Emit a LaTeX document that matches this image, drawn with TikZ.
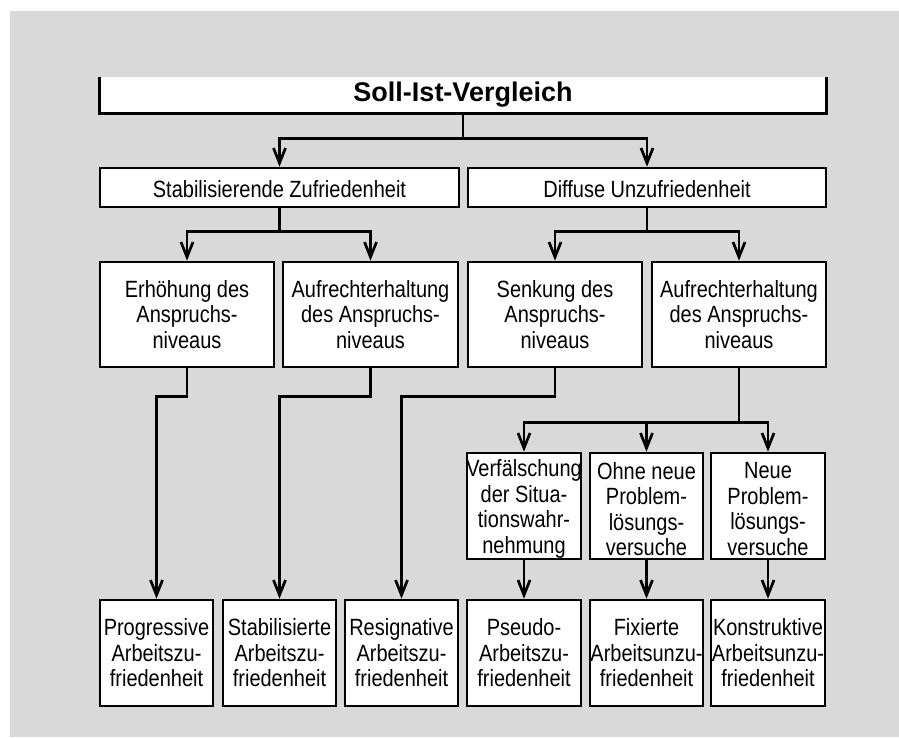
\documentclass[tikz,border=0pt]{standalone}
\usepackage{fontspec}
\setmainfont{Liberation Sans}[FakeStretch=0.85]
\newfontfamily\titlefont{Liberation Sans}
\usetikzlibrary{arrows.meta}
\definecolor{bggray}{RGB}{217,217,217}
\tikzset{
  box/.style={draw=black, fill=white, line width=2.7pt, inner sep=0pt},
  txt/.style={inner sep=0pt, align=center, font=\fontsize{23.5pt}{25.5pt}\selectfont},
  conn/.style={draw=black, line width=2.7pt},
  arr/.style={-{Straight Barb[length=15pt,width=12pt]}},
}
\newcommand{\mybox}[7][0]{%
  \node[box, minimum width=#5pt, minimum height=#6pt] (#2) at (#3,#4) {};
  \node[txt, yshift=-#1pt] (#2t) at (#2.center) {#7};}
\begin{document}
\begin{tikzpicture}[x=1pt,y=-1pt]
\useasboundingbox (0,0) rectangle (899,737);
\fill[white] (0,0) rectangle (899,737);
\fill[bggray] (10,11) rectangle (899,737);

% top box (open at its upper side)
\node[fill=white, inner sep=0pt, minimum width=726pt, minimum height=36pt] (top) at (463,95) {};
\draw[conn] (top.north west) -- (top.south west) -- (top.south east) -- (top.north east);
\node[inner sep=0pt, font=\titlefont\bfseries\fontsize{27pt}{29pt}\selectfont] (topt) at (top.center) {Soll-Ist-Vergleich};

% second row
\mybox[2]{L}{279.5}{187.5}{359}{39}{Stabilisierende Zufriedenheit}
\mybox[2]{R}{647}{187.5}{358}{39}{Diffuse Unzufriedenheit}

% third row
\mybox{b1}{187}{314.5}{174}{105}{Erhöhung des\\Anspruchs-\\niveaus}
\mybox{b2}{370.5}{314.5}{175}{105}{Aufrechterhaltung\\des Anspruchs-\\niveaus}
\mybox{b3}{555}{314.5}{174}{105}{Senkung des\\Anspruchs-\\niveaus}
\mybox{b4}{739}{314.5}{174}{105}{Aufrechterhaltung\\des Anspruchs-\\niveaus}

% fourth row
\mybox[3]{c1}{524}{506}{114}{106}{Verfälschung\\der Situa-\\tionswahr-\\nehmung}
\mybox[3]{c2}{646.5}{506}{113}{106}{Ohne neue\\Problem-\\lösungs-\\versuche}
\mybox[3]{c3}{768}{506}{114}{106}{Neue\\Problem-\\lösungs-\\versuche}

% bottom row
\mybox{d1}{156.5}{653}{113}{106}{Progressive\\Arbeitszu-\\friedenheit}
\mybox{d2}{279.5}{653}{113}{106}{Stabilisierte\\Arbeitszu-\\friedenheit}
\mybox{d3}{401.5}{653}{113}{106}{Resignative\\Arbeitszu-\\friedenheit}
\mybox{d4}{524}{653}{114}{106}{Pseudo-\\Arbeitszu-\\friedenheit}
\mybox{d5}{646.5}{653}{113}{106}{Fixierte\\Arbeitsunzu-\\friedenheit}
\mybox{d6}{768}{653}{114}{106}{Konstruktive\\Arbeitsunzu-\\friedenheit}

% connectors
\draw[conn] (top.south) -- ++(0,25) coordinate (j0);
\draw[conn,arr] (j0) -| (L.north);
\draw[conn,arr] (j0) -| (R.north);

\draw[conn] (L.south) -- ++(0,23) coordinate (j1);
\draw[conn,arr] (j1) -| (b1.north);
\draw[conn,arr] (j1) -| (b2.north);

\draw[conn] (R.south) -- ++(0,23) coordinate (j2);
\draw[conn,arr] (j2) -| (b3.north);
\draw[conn,arr] (j2) -| (b4.north);

\draw[conn,arr] (b1.south) -- ++(0,28) -| (d1.north);
\draw[conn,arr] (b2.south) -- ++(0,28) -| (d2.north);
\draw[conn,arr] (b3.south) -- ++(0,28) -| (d3.north);

\draw[conn] (b4.south) -- ++(0,54) coordinate (j3);
\draw[conn,arr] (j3) -| (c1.north);
\draw[conn,arr] (j3) -| (c2.north);
\draw[conn,arr] (j3) -| (c3.north);

\draw[conn,arr] (c1.south) -- (d4.north);
\draw[conn,arr] (c2.south) -- (d5.north);
\draw[conn,arr] (c3.south) -- (d6.north);
\end{tikzpicture}
\end{document}
